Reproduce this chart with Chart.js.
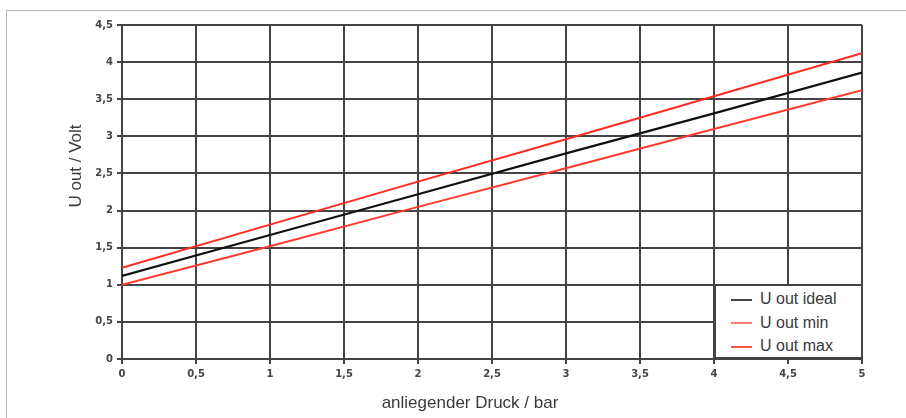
<!DOCTYPE html>
<html>
<head>
<meta charset="utf-8">
<script src="https://cdn.jsdelivr.net/npm/chart.js@4.4.1/dist/chart.umd.min.js"></script>
<style>
  body { margin: 0; background: #fff; overflow: hidden; }
  #wrap { position: relative; width: 906px; height: 418px; }
  #frame { position: absolute; left: 6px; top: 10px; width: 1000px; height: 1000px;
           border: 1.5px solid #b8b8b8; box-sizing: border-box; }
  canvas { position: absolute; left: 0; top: 0; }
  #legend { position: absolute; left: 714px; top: 284px; width: 149px; height: 75px;
            background: #fff; border: 2px solid #444; box-sizing: border-box;
            padding-top: 1px; font-family: "Liberation Sans", Arial, sans-serif;
            font-size: 16px; color: #3a3a3a; }
  #legend .row { height: 23.5px; line-height: 23.5px; white-space: nowrap; }
  #legend .swatch { display: inline-block; width: 21px; height: 2px; margin-left: 15px;
                    margin-right: 8px; vertical-align: middle; }
</style>
</head>
<body>
<div id="wrap">
  <div id="frame"></div>
  <canvas id="myChart" width="906" height="418"></canvas>
  <div id="legend"></div>
</div>
<script>
// values
const pressure = [0, 1, 2, 3, 4, 5]
const uIdeal = [1.12, 1.67, 2.22, 2.77, 3.31, 3.86]
const uMin = [1.0, 1.52, 2.05, 2.57, 3.1, 3.62]
const uMax = [1.23, 1.81, 2.39, 2.96, 3.54, 4.12]
const seriesNames = ['U out ideal', 'U out min', 'U out max']
const xTitle = 'anliegender Druck / bar'
const yTitle = 'U out / Volt'

function points(ys)
{
  return pressure.map(function(x, i){ return {x: x, y: ys[i]} })
}

function comma(v)
{
  return String(v).replace('.', ',')
}

const gridColor = '#444'
const tickFont = {family: '"DejaVu Sans", sans-serif', size: 10, weight: 'bold'}

// axis titles sit a bit off-centre in the original, so draw them ourselves
const axisTitles = {
  id: 'axisTitles',
  afterDraw: function(chart){
    const ctx = chart.ctx
    const area = chart.chartArea
    ctx.save()
    ctx.fillStyle = '#3a3a3a'
    ctx.font = '17px "Liberation Sans", Arial, sans-serif'
    ctx.textAlign = 'center'
    ctx.textBaseline = 'middle'
    ctx.fillText(xTitle, area.left + 348, 403)
    ctx.translate(76, area.top + 141)
    ctx.rotate(-Math.PI / 2)
    ctx.fillText(yTitle, 0, 0)
    ctx.restore()
  }
}

var ctx = document.getElementById('myChart').getContext('2d');
var chart = new Chart(ctx, {
    type: 'line',
    data: {
        datasets: [{
            label: seriesNames[0],
            borderColor: '#111',
            borderWidth: 2.2,
            data: points(uIdeal)
        },{
            label: seriesNames[1],
            borderColor: '#ff3a2e',
            borderWidth: 2,
            data: points(uMin)
        },{
            label: seriesNames[2],
            borderColor: '#ff2a22',
            borderWidth: 2,
            data: points(uMax)
        }]
    },
    options: {
        responsive: false,
        animation: false,
        elements: { point: { radius: 0 }, line: { tension: 0 } },
        layout: { padding: { left: 0, top: 25, right: 44, bottom: 0 } },
        plugins: { legend: { display: false }, tooltip: { enabled: false } },
        scales: {
            x: {
                type: 'linear',
                min: 0, max: 5,
                afterFit: function(s){ s.height = 59 },
                ticks: { stepSize: 0.5, padding: 4, color: '#444', font: tickFont,
                         maxRotation: 0, callback: comma },
                grid: { color: gridColor, lineWidth: 2, tickLength: 5 },
                border: { color: gridColor, width: 2 }
            },
            y: {
                min: 0, max: 4.5,
                afterFit: function(s){ s.width = 122 },
                ticks: { stepSize: 0.5, padding: 4, color: '#444', font: tickFont,
                         callback: comma },
                grid: { color: gridColor, lineWidth: 2, tickLength: 5 },
                border: { color: gridColor, width: 2 }
            }
        }
    },
    plugins: [axisTitles]
})

function buildLegend()
{
  const box = document.getElementById('legend')
  box.innerHTML = ''
  chart.data.datasets.forEach(function(ds, i){
    const row = document.createElement('DIV')
    const swatch = document.createElement('SPAN')
    const text = document.createElement('SPAN')
    row.className = 'row'
    swatch.className = 'swatch'
    swatch.style.background = ds.borderColor
    if (i == 0) swatch.style.background = '#444'
    if (i == 1) swatch.style.opacity = 0.65
    if (i == 2) swatch.style.opacity = 0.8
    text.textContent = ds.label
    row.appendChild(swatch)
    row.appendChild(text)
    box.appendChild(row)
  })
}
buildLegend()
</script>
</body>
</html>
